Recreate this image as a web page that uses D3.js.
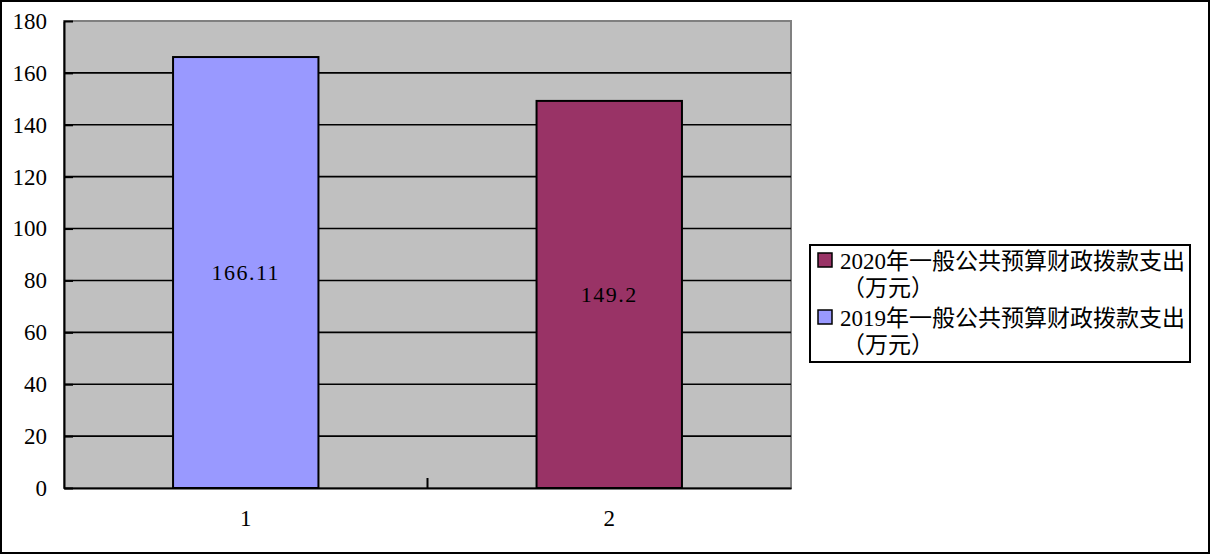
<!DOCTYPE html>
<html>
<head>
<meta charset="utf-8">
<script src="https://cdn.jsdelivr.net/npm/d3@7/dist/d3.min.js"></script>
<style>
html,body{margin:0;padding:0;background:#fff;}
svg{display:block;}
</style>
</head>
<body>
<svg id="chart" width="1212" height="555"></svg>
<script>
const categories = ["1", "2"];
const values = [166.11, 149.2];
const barColors = ["#9999FF", "#993366"];
const yTicks = [0, 20, 40, 60, 80, 100, 120, 140, 160, 180];
const legendLabels = [
  ["2020年一般公共预算财政拨款支出", "（万元）"],
  ["2019年一般公共预算财政拨款支出", "（万元）"]
];
const legendColors = ["#993366", "#9999FF"];

const svg = d3.select("#chart");
const plot = {left: 64, right: 791, top: 21, bottom: 488};
const serif = "'Liberation Serif', 'Noto Sans CJK SC', serif";

// outer border
svg.append("rect").attr("x", 1).attr("y", 1).attr("width", 1208).attr("height", 552)
  .attr("fill", "#fff").attr("stroke", "#000").attr("stroke-width", 2);

const x = d3.scaleBand().domain(categories).range([plot.left, plot.right]).padding(0);
const y = d3.scaleLinear().domain([0, 180]).range([plot.bottom, plot.top]);

// plot area
svg.append("rect").attr("x", plot.left).attr("y", plot.top)
  .attr("width", plot.right - plot.left).attr("height", plot.bottom - plot.top)
  .attr("fill", "#C0C0C0").attr("stroke", "#808080").attr("stroke-width", 2);

// gridlines
svg.append("g").selectAll("line").data(yTicks.filter(d => d > 0 && d < 180)).join("line")
  .attr("x1", plot.left).attr("x2", plot.right)
  .attr("y1", d => y(d)).attr("y2", d => y(d))
  .attr("stroke", "#000").attr("stroke-width", 1.6);

// y axis
const yAxis = d3.axisLeft(y).tickValues(yTicks).tickSizeInner(-9).tickSizeOuter(0).tickPadding(17);
const gy = svg.append("g").attr("transform", `translate(${plot.left},0)`).call(yAxis);
gy.select(".domain").attr("stroke", "#000").attr("stroke-width", 2);
gy.selectAll(".tick line").attr("stroke", "#000").attr("stroke-width", 2);
gy.selectAll(".tick text").attr("font-family", serif).attr("font-size", 23).attr("fill", "#000");

// bars
const bw = x.bandwidth() * 0.4;
svg.append("g").selectAll("rect").data(categories).join("rect")
  .attr("x", (d) => x(d) + (x.bandwidth() - bw) / 2)
  .attr("width", bw)
  .attr("y", (d, i) => y(values[i]))
  .attr("height", (d, i) => y(0) - y(values[i]))
  .attr("fill", (d, i) => barColors[i])
  .attr("stroke", "#000").attr("stroke-width", 2);

// data labels
svg.append("g").selectAll("text").data(categories).join("text")
  .attr("x", d => x(d) + x.bandwidth() / 2)
  .attr("y", (d, i) => (y(values[i]) + y(0)) / 2)
  .attr("text-anchor", "middle").attr("dominant-baseline", "central")
  .attr("font-family", serif).attr("font-size", 22).attr("letter-spacing", 1.5)
  .attr("fill", "#000")
  .text((d, i) => String(values[i]));

// x axis
const xAxis = d3.axisBottom(x).tickSize(0).tickPadding(22);
const gx = svg.append("g").attr("transform", `translate(0,${plot.bottom})`).call(xAxis);
gx.select(".domain").attr("stroke", "#000").attr("stroke-width", 2);
gx.selectAll(".tick text").attr("font-family", serif).attr("font-size", 23).attr("fill", "#000");
// category separator ticks (inside)
const sepTicks = categories.slice(1).map(c => x(c));
svg.append("g").selectAll("line").data(sepTicks).join("line")
  .attr("x1", d => d).attr("x2", d => d)
  .attr("y1", plot.bottom).attr("y2", plot.bottom - 10)
  .attr("stroke", "#000").attr("stroke-width", 2);

// legend
const lg = svg.append("g");
lg.append("rect").attr("x", 810).attr("y", 245).attr("width", 380).attr("height", 117)
  .attr("fill", "#fff").attr("stroke", "#000").attr("stroke-width", 2);
legendLabels.forEach((lines, i) => {
  const top = 253 + i * 57;
  lg.append("rect").attr("x", 818).attr("y", top).attr("width", 14).attr("height", 14)
    .attr("fill", legendColors[i]).attr("stroke", "#000").attr("stroke-width", 1.5);
  lines.forEach((t, j) => {
    lg.append("text").attr("x", j === 0 ? 840 : 842).attr("y", top + 8 + j * 27)
      .attr("dominant-baseline", "central")
      .attr("font-family", serif).attr("font-size", 23).attr("fill", "#000")
      .text(t);
  });
});
</script>
</body>
</html>
